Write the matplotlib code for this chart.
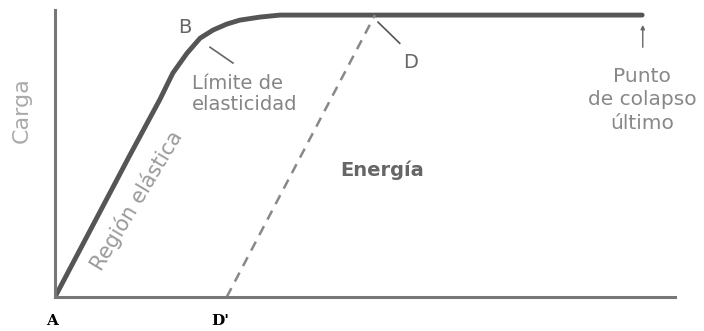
import matplotlib.pyplot as plt
import numpy as np

# curve (deformation, load) in relative units
deform = [0, 0.6, 1.2, 1.69, 1.90, 2.13, 2.34, 2.55, 2.77, 2.98, 3.31, 3.63, 9.47]
carga = [0, 0.25, 0.5, 0.70, 0.794, 0.865, 0.918, 0.947, 0.968, 0.982, 0.993, 1.0, 1.0]
unload_x = [2.77, 5.16]
unload_y = [0, 1.0]

W, H = 704, 331
fig = plt.figure(figsize=(W/100, H/100), dpi=100)
ax = fig.add_axes([55/W, (H-297)/H, 620/W, 287/H])
ax.set_xlim(0, 10)
ax.set_ylim(0, 1.018)
for s in ['top', 'right']: ax.spines[s].set_visible(False)
for s in ['left', 'bottom']:
    ax.spines[s].set_color('#777777'); ax.spines[s].set_linewidth(2.2)
ax.set_xticks([]); ax.set_yticks([])

ax.plot(deform, carga, color='#555555', lw=3.5, solid_capstyle='round', solid_joinstyle='round')
ax.plot(unload_x, unload_y, color='#888888', lw=1.8, ls=(0, (4, 3)))

grey = '#858585'
ax.text(2.1, 0.957, 'B', color='#666666', fontsize=14, ha='center', va='center')
ax.plot([2.5, 2.87], [0.886, 0.83], color='#666666', lw=1.2)
ax.text(2.21, 0.72, 'Límite de\nelasticidad', color=grey, fontsize=14, ha='left', va='center', linespacing=1.15)
ax.plot([5.21, 5.56], [0.975, 0.90], color='#555555', lw=1.2)
ax.text(5.73, 0.833, 'D', color='#666666', fontsize=14, ha='center', va='center')
ax.text(5.27, 0.45, 'Energía', color='#666666', fontsize=14, fontweight='bold', ha='center', va='center')
ax.annotate('', xy=(9.48, 0.975), xytext=(9.48, 0.876),
            arrowprops=dict(arrowstyle='-|>', color='#666666', lw=1.0, mutation_scale=6))
ax.text(9.47, 0.70, 'Punto\nde colapso\núltimo', color='#888888', fontsize=14.5, ha='center', va='center', linespacing=1.3)
ax.text(1.31, 0.344, 'Región elástica', color='#9a9a9a', fontsize=15, ha='center', va='center', rotation=59)
ax.text(-0.53, 0.663, 'Carga', color='#aaaaaa', fontsize=16, ha='center', va='center', rotation=90, clip_on=False)
ax.text(-0.05, -0.085, 'A', color='black', fontsize=11, family='DejaVu Serif', fontweight='bold', ha='center', va='center')
ax.text(2.66, -0.085, "D'", color='black', fontsize=11, family='DejaVu Serif', fontweight='bold', ha='center', va='center')

fig.savefig('out.png', dpi=100)
